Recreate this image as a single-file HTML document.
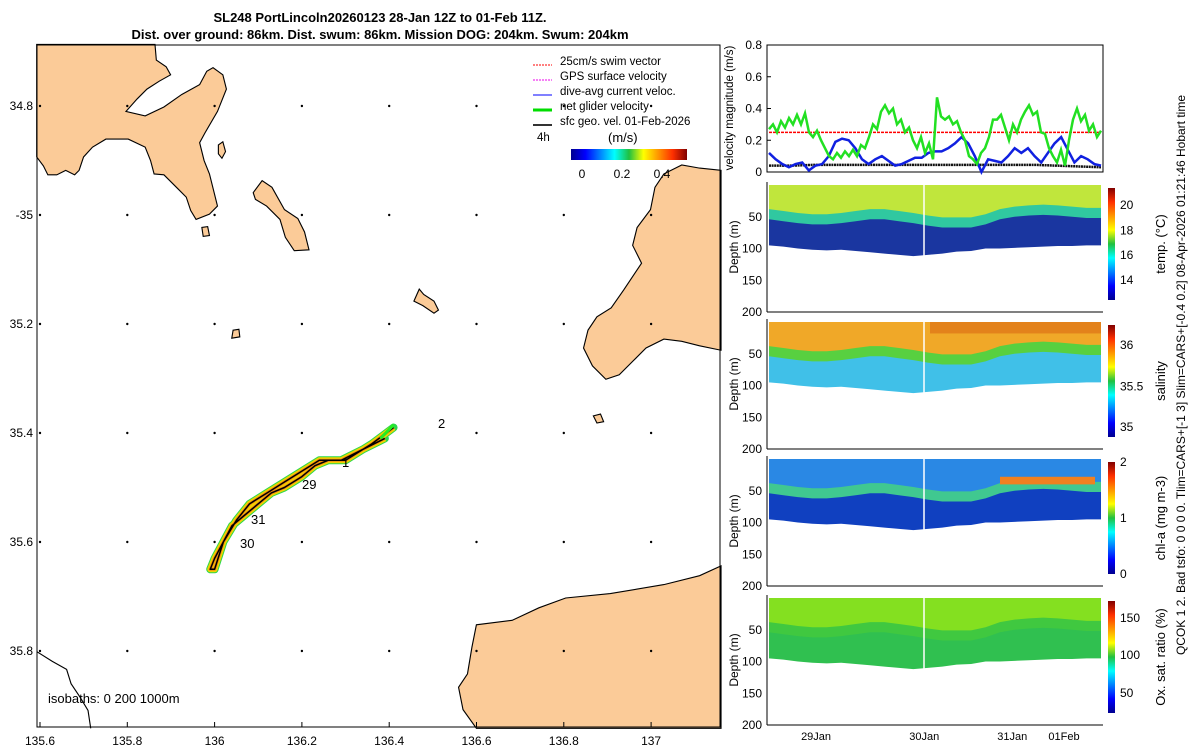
<!DOCTYPE html>
<html><head><meta charset="utf-8">
<style>
body{margin:0;background:#fff;}
svg{display:block;font-family:"Liberation Sans",sans-serif;}
</style></head>
<body>
<svg id="fig" width="1200" height="750" viewBox="0 0 1200 750">
<rect width="1200" height="750" fill="#fff"/>
<text x="380" y="22" text-anchor="middle" font-size="13" font-weight="bold">SL248 PortLincoln20260123 28-Jan 12Z to 01-Feb 11Z.</text>
<text x="380" y="39" text-anchor="middle" font-size="13" font-weight="bold">Dist. over ground: 86km. Dist. swum: 86km. Mission DOG: 204km. Swum: 204km</text>

<!-- MAP -->
<g id="map">
<g transform="translate(30,40) scale(0.4464)" fill="#fbcb98" stroke="#000" stroke-width="2.5">
<path d="M15,10 L280,10 L283,45 L305,60 L315,78 L290,92 L262,110 L240,132 L215,160 L258,170 L300,150 L340,122 L380,100 L396,70 L410,62 L432,78 L440,110 L420,160 L392,208 L380,230 L390,270 L402,300 L412,340 L420,372 L402,390 L372,402 L360,382 L350,352 L330,332 L300,302 L278,300 L270,270 L258,240 L220,222 L170,222 L140,240 L120,262 L110,292 L100,302 L80,292 L60,302 L40,302 L30,282 L15,262 Z"/>
<path d="M500,342 L520,315 L542,330 L570,380 L600,400 L615,430 L625,470 L592,472 L572,442 L560,402 L530,372 L505,357 Z"/>
<path d="M872,558 L882,570 L905,585 L915,605 L905,612 L880,595 L860,585 Z"/>
<path d="M422,235 L432,228 L438,250 L430,265 L422,255 Z"/>
<path d="M455,650 L468,648 L470,665 L452,668 Z"/>
<path d="M385,420 L398,418 L402,438 L388,440 Z"/>
<path d="M1548,292 L1500,287 L1460,280 L1420,300 L1400,330 L1390,380 L1360,420 L1350,460 L1370,500 L1330,560 L1302,600 L1270,620 L1250,650 L1240,690 L1260,730 L1290,760 L1320,750 L1350,720 L1380,690 L1420,670 L1460,675 L1500,685 L1548,695 Z"/>
<path d="M1262,842 L1278,838 L1285,855 L1270,858 Z"/>
<path d="M1548,1178 L1500,1200 L1420,1220 L1300,1240 L1200,1250 L1140,1272 L1080,1300 L1000,1310 L990,1360 L980,1420 L960,1450 L970,1500 L1000,1542 L1548,1542 Z"/>
<path fill="none" d="M15,1370 L50,1392 L82,1410 L92,1442 L112,1472 L130,1502 L136,1542"/>
</g>
<g id="grid-dots" fill="#000"></g>
<rect x="37" y="45" width="683" height="682" fill="none" stroke="#000" stroke-width="1"/>
<g id="map-xticks" font-size="12" text-anchor="middle"></g>
<g id="map-yticks" font-size="12" text-anchor="end"></g>
<g id="track"></g>
<g font-size="13">
<text x="438" y="428">2</text>
<text x="342" y="467">1</text>
<text x="302" y="489">29</text>
<text x="251" y="524">31</text>
<text x="240" y="548">30</text>
<text x="48" y="703">isobaths: 0   200  1000m</text>
</g>
<!-- legend -->
<g font-size="11.5">
<line x1="533" y1="65" x2="552" y2="65" stroke="#f00" stroke-dasharray="2,1"/><text x="560" y="65">25cm/s swim vector</text>
<line x1="533" y1="80" x2="552" y2="80" stroke="#e0e" stroke-dasharray="2,1"/><text x="560" y="80">GPS surface velocity</text>
<line x1="533" y1="95" x2="552" y2="95" stroke="#00f"/><text x="560" y="95">dive-avg current veloc.</text>
<line x1="533" y1="110" x2="552" y2="110" stroke="#0d0" stroke-width="3"/><text x="560" y="110">net glider velocity</text>
<line x1="533" y1="125" x2="552" y2="125" stroke="#333" stroke-width="2"/><text x="560" y="125">sfc geo. vel. 01-Feb-2026</text>
<text x="537" y="141">4h</text>
<text x="608" y="142" font-size="13">(m/s)</text>
<defs>
<linearGradient id="jet" x1="0" x2="1" y1="0" y2="0">
<stop offset="0" stop-color="#00008f"/><stop offset="0.125" stop-color="#0000ff"/><stop offset="0.375" stop-color="#00ffff"/><stop offset="0.5" stop-color="#20c040"/><stop offset="0.625" stop-color="#ffff00"/><stop offset="0.875" stop-color="#ff3000"/><stop offset="1" stop-color="#800000"/>
</linearGradient>
<linearGradient id="jetv" x1="0" x2="0" y1="1" y2="0">
<stop offset="0" stop-color="#00008f"/><stop offset="0.125" stop-color="#0000ff"/><stop offset="0.375" stop-color="#00ffff"/><stop offset="0.5" stop-color="#20c040"/><stop offset="0.625" stop-color="#ffff00"/><stop offset="0.875" stop-color="#ff3000"/><stop offset="1" stop-color="#800000"/>
</linearGradient>
</defs>
<rect x="571" y="149" width="116" height="11" fill="url(#jet)"/>
<text x="582" y="178" text-anchor="middle" font-size="12">0</text>
<text x="622" y="178" text-anchor="middle" font-size="12">0.2</text>
<text x="662" y="178" text-anchor="middle" font-size="12">0.4</text>
</g>
</g>

<!-- VELOCITY PANEL -->
<g id="vel"></g>
<!-- SECTIONS -->
<g id="sections"></g>
<g id="timeaxis" font-size="11" text-anchor="middle"></g>
<text transform="translate(1185,375) rotate(-90)" text-anchor="middle" font-size="12">QCOK 1  2. Bad tsfo: 0  0  0  0. Tlim=CARS+[-1 3] Slim=CARS+[-0.4 0.2] 08-Apr-2026 01:21:46 Hobart time</text>
</svg>
<script>
const NS='http://www.w3.org/2000/svg';
function mk(tag,attrs,parent){const e=document.createElementNS(NS,tag);for(const k in attrs)e.setAttribute(k,attrs[k]);parent.appendChild(e);return e;}

// map axes
const lonTicks=[135.6,135.8,136,136.2,136.4,136.6,136.8,137];
const latTicks=[34.8,35,35.2,35.4,35.6,35.8];
const latLabels=['34.8','-35','35.2','35.4','35.6','35.8'];
const trackLon=[136.41,136.36,136.3,136.26,136.23,136.2,136.16,136.13,136.1,136.07,136.04,136.02,136.0,135.99,136.0,136.02,136.05,136.08,136.12,136.16,136.2,136.24,136.29,136.34,136.39];
const trackLat=[35.39,35.42,35.45,35.45,35.46,35.48,35.5,35.51,35.53,35.55,35.57,35.6,35.63,35.65,35.65,35.6,35.56,35.53,35.51,35.49,35.47,35.45,35.45,35.43,35.41];
const lonX=v=>40+(v-135.6)*436.5;
const latY=v=>106+(v-34.8)*545;
const mx=document.getElementById('map-xticks'),my=document.getElementById('map-yticks'),gd=document.getElementById('grid-dots');
lonTicks.forEach(v=>{const t=mk('text',{x:lonX(v),y:745},mx);t.textContent=String(v);


mk('line',{x1:lonX(v),x2:lonX(v),y1:727,y2:722,stroke:'#000'},mx);
latTicks.forEach(w=>{const d=mk('circle',{cx:lonX(v),cy:latY(w),r:1.2},gd);

});});
latTicks.forEach((v,i)=>{const t=mk('text',{x:33,y:latY(v)+4},my);t.textContent=latLabels[i];

});
const tr=document.getElementById('track');
const pts=trackLon.map((v,i)=>lonX(v)+','+latY(trackLat[i])).join(' ');
mk('polyline',{points:pts,fill:'none',stroke:'#2cd84a',"stroke-width":8,"stroke-linejoin":'round',"stroke-linecap":'round'},tr);
mk('polyline',{points:pts,fill:'none',stroke:'#f2d200',"stroke-width":6,"stroke-linejoin":'round'},tr);
mk('polyline',{points:pts,fill:'none',stroke:'#f08a10',"stroke-width":3,"stroke-linejoin":'round'},tr);
mk('polyline',{points:pts,fill:'none',stroke:'#000',"stroke-width":1.5,"stroke-linejoin":'round'},tr);
mk('line',{x1:lonX(136.38),y1:latY(35.41),x2:lonX(136.41),y2:latY(35.385),stroke:'#2e2','stroke-width':3},tr);

// velocity panel
const vx0=767,vx1=1103,vy0=45,vy1=172;
const velTicks=[0,0.2,0.4,0.6,0.8];
const netVel=[0.27,0.3,0.25,0.32,0.28,0.34,0.3,0.36,0.3,0.37,0.25,0.22,0.26,0.2,0.15,0.1,0.08,0.12,0.09,0.13,0.1,0.14,0.1,0.17,0.15,0.22,0.3,0.27,0.38,0.42,0.37,0.4,0.3,0.33,0.25,0.28,0.2,0.15,0.22,0.12,0.18,0.08,0.47,0.35,0.33,0.35,0.3,0.32,0.25,0.2,0.1,0.08,0.05,0.12,0.15,0.22,0.33,0.33,0.36,0.28,0.2,0.3,0.25,0.33,0.38,0.42,0.36,0.38,0.25,0.24,0.15,0.1,0.06,0.14,0.04,0.2,0.33,0.4,0.32,0.36,0.26,0.3,0.22,0.26];
const dacVel=[0.12,0.08,0.05,0.03,0.05,0.06,0.01,0.04,0.05,0.1,0.19,0.21,0.2,0.15,0.08,0.05,0.08,0.1,0.07,0.04,0.05,0.07,0.09,0.09,0.12,0.13,0.13,0.15,0.18,0.22,0.18,0.1,0.0,0.08,0.07,0.06,0.1,0.15,0.12,0.15,0.1,0.06,0.12,0.18,0.22,0.14,0.06,0.1,0.08,0.05,0.04];
const geoVel=[0.04,0.04,0.045,0.045,0.045,0.045,0.045,0.045,0.045,0.045,0.045,0.045,0.045,0.04,0.035,0.03];
const swimVel=[0.25,0.25];
const vel=document.getElementById('vel');
const vY=v=>vy1-v/0.8*(vy1-vy0);
mk('rect',{x:vx0,y:vy0,width:vx1-vx0,height:vy1-vy0,fill:'none',stroke:'#000'},vel);
velTicks.forEach(v=>{const t=mk('text',{x:vx0-5,y:vY(v)+4,'font-size':12,'text-anchor':'end'},vel);t.textContent=String(v);


mk('line',{x1:vx0,x2:vx0+4,y1:vY(v),y2:vY(v),stroke:'#000'},vel);});
const yl=mk('text',{transform:'translate(733,108) rotate(-90)','font-size':11.5,'text-anchor':'middle'},vel);yl.textContent='velocity magnitude (m/s)';


function series(arr,color,w,dash,name){const n=arr.length;const p=arr.map((v,i)=>(vx0+2+i/(n-1)*(vx1-vx0-4))+','+vY(v)).join(' ');
const l=mk('polyline',{points:p,fill:'none',stroke:color,'stroke-width':w,'stroke-dasharray':dash},vel);

}
series(swimVel,'#f00',1.5,'3,1','swim-vector-line');
series(geoVel,'#111',2.5,'2,0.6','sfc-geo-vel-line');
series(dacVel,'#1020e0',2.5,'','dive-avg-current-line');
series(netVel,'#22e022',2.5,'','net-glider-velocity-line');

// sections
const sx0=767,sx1=1103;
const panelTop=[185,322,459,598];
const pxPerM=0.635;
const depthTicks=[50,100,150,200];
const mld=[42,45,48,50,50,48,45,42,42,45,48,52,55,55,55,50,42,38,36,35,36,38,40,40];
const maxDepth=[95,97,100,102,103,102,104,106,108,110,112,110,108,105,104,100,100,99,98,97,96,96,95,95];
const sec=document.getElementById('sections');
const panels=[
 {name:'temperature',top:'#c0e63c',mid:'#30c8a0',deep:'#1a36a0',cb:['20','18','16','14'],cbv:[0.85,0.62,0.4,0.18],label:'temp. (°C)'},
 {name:'salinity',top:'#f0a828',mid:'#58d040',deep:'#40c0e8',cb:['36','35.5','35'],cbv:[0.82,0.45,0.09],label:'salinity'},
 {name:'chlorophyll',top:'#2a88e4',mid:'#40c890',deep:'#1040c0',cb:['2','1','0'],cbv:[1,0.5,0],label:'chl-a (mg m-3)'},
 {name:'oxygen',top:'#84e020',mid:'#40c840',deep:'#30c050',cb:['150','100','50'],cbv:[0.85,0.52,0.18],label:'Ox. sat. ratio (%)'}];
panels.forEach((P,k)=>{
 const y0=panelTop[k];const g=mk('g',{},sec);
 
 
 const n=mld.length;const X=i=>sx0+2+i/(n-1)*(sx1-sx0-4);const D=d=>y0+d*pxPerM;
 let bottom=mld.map((d,i)=>X(i)+','+D(maxDepth[i])).reverse().join(' ');
 mk('polygon',{points:X(0)+','+D(0)+' '+X(n-1)+','+D(0)+' '+bottom,fill:P.deep},g);
 let mtop=mld.map((d,i)=>X(i)+','+D(d+12)).reverse().join(' ');
 mk('polygon',{points:X(0)+','+D(0)+' '+X(n-1)+','+D(0)+' '+mtop,fill:P.mid},g);
 let ttop=mld.map((d,i)=>X(i)+','+D(d-4)).reverse().join(' ');
 mk('polygon',{points:X(0)+','+D(0)+' '+X(n-1)+','+D(0)+' '+ttop,fill:P.top},g);
 if(k===1){mk('rect',{x:930,y:D(0),width:171,height:18*pxPerM,fill:'#e07818',opacity:0.8},g);}
 if(k===2){mk('rect',{x:1000,y:D(28),width:95,height:12*pxPerM,fill:'#f08020'},g);}
 mk('line',{x1:924,x2:924,y1:D(0),y2:D(112),stroke:'#fff','stroke-width':1.5},g);
 mk('line',{x1:sx0,x2:sx0,y1:y0-3,y2:D(200),stroke:'#000'},g);
 mk('line',{x1:sx0,x2:sx1,y1:D(200),y2:D(200),stroke:'#000'},g);
 depthTicks.forEach(d=>{const t=mk('text',{x:sx0-5,y:D(d)+4,'font-size':12,'text-anchor':'end'},g);t.textContent=String(d);
 
 });
 const dl=mk('text',{transform:`translate(738,${y0+62}) rotate(-90)`,'font-size':12,'text-anchor':'middle'},g);dl.textContent='Depth (m)';
 
 
 const cbH=112,cbY=y0+3;
 const cb=mk('rect',{x:1108,y:cbY,width:7,height:cbH,fill:'url(#jetv)'},g);
 
 
 P.cb.forEach((s,j)=>{const yy=cbY+cbH*(1-P.cbv[j]);const t=mk('text',{x:1120,y:yy+4,'font-size':12},g);t.textContent=s;
 
 });
 const cl=mk('text',{transform:`translate(1165,${cbY+cbH/2}) rotate(-90)`,'font-size':13,'text-anchor':'middle'},g);cl.textContent=P.label;
 
 
});
const timeLabels=['29Jan','30Jan','31Jan','01Feb'];
const timeFrac=[0.146,0.468,0.73,0.884];
const ta=document.getElementById('timeaxis');
timeLabels.forEach((s,i)=>{const x=sx0+timeFrac[i]*(sx1-sx0);const t=mk('text',{x:x,y:740},ta);t.textContent=s;

});
</script>
</body></html>
